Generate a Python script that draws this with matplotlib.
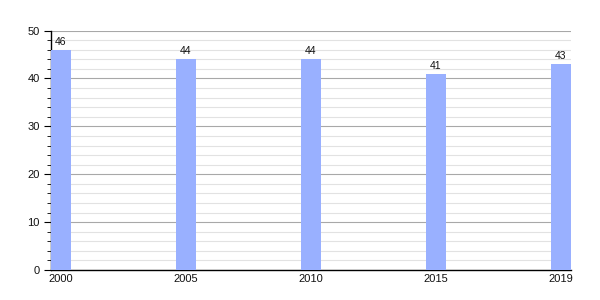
import numpy as np
import matplotlib.pyplot as plt
from matplotlib.ticker import MultipleLocator

# Data
years = ['2000', '2005', '2010', '2015', '2019']
values = [46, 44, 44, 41, 43]

plt.rcParams['font.family'] = ['Liberation Sans', 'DejaVu Sans']

fig = plt.figure(figsize=(6, 3), dpi=100)
ax = fig.add_axes([0.0845, 0.1, 0.8667, 0.898 - 0.1])

x = np.arange(len(years))
bars = ax.bar(x, values, width=0.16, color='#99b0ff', zorder=3)

for xi, v in zip(x, values):
    ax.text(xi, v + 0.6, str(v), ha='center', va='bottom', fontsize=7.5, color='#111111')

ax.set_xlim(-0.08, len(years) - 1 + 0.08)
ax.set_ylim(0, 50)
ax.set_xticks(x)
ax.set_xticklabels(years)
ax.yaxis.set_major_locator(MultipleLocator(10))
ax.yaxis.set_minor_locator(MultipleLocator(2))

# Grid lines
ax.grid(axis='y', which='major', color='#a8a8a8', linewidth=0.8, zorder=0)
ax.grid(axis='y', which='minor', color='#e2e2e2', linewidth=0.8, zorder=0)

for side in ['top', 'right']:
    ax.spines[side].set_visible(False)
ax.spines['left'].set_linewidth(1.0)
ax.spines['bottom'].set_linewidth(1.0)

ax.tick_params(axis='x', length=0, labelsize=8, pad=3, labelcolor='#111111')
ax.tick_params(axis='y', which='major', length=5, labelsize=8, pad=3, labelcolor='#111111')
ax.tick_params(axis='y', which='minor', length=3)

fig.savefig('out.png', dpi=100)
